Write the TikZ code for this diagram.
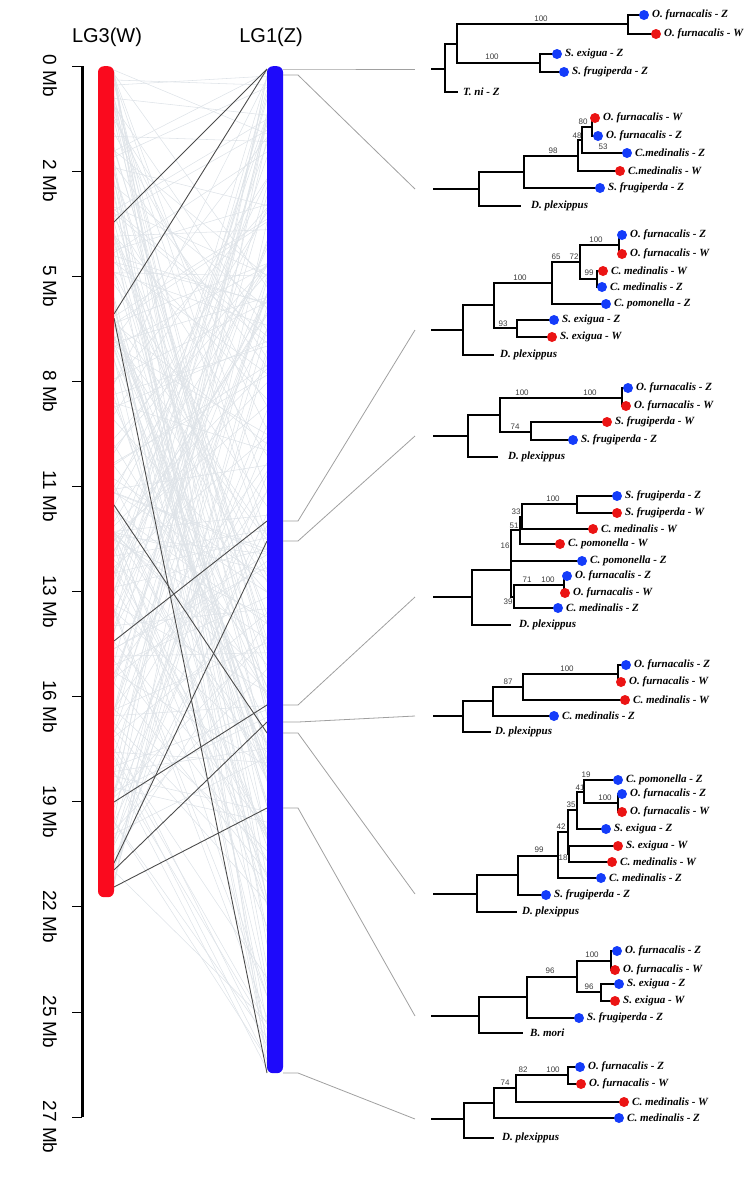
\documentclass[tikz,border=0pt]{standalone}
\usepackage{fontspec}
\setmainfont{Liberation Serif}
\newfontfamily\arialfont{Liberation Sans}
\definecolor{lgred}{RGB}{250,10,30}
\definecolor{lgblue}{RGB}{30,10,250}
\definecolor{dotblue}{RGB}{20,60,250}
\definecolor{dotred}{RGB}{235,20,20}
\definecolor{meshgray}{RGB}{222,227,232}
\definecolor{linkgray}{RGB}{160,160,160}
\definecolor{bootgray}{RGB}{60,60,60}
\tikzset{
  br/.style={line width=1.9pt, line cap=rect},
  tiplab/.style={anchor=west, inner sep=0pt, font=\fontsize{11}{12}\selectfont\bfseries\itshape},
  bootlab/.style={inner sep=0pt, text=bootgray, font=\arialfont\fontsize{8}{8}\selectfont},
  chrom/.style={draw=none, minimum width=16pt, inner sep=0pt, rounded corners=6pt, anchor=north},
  mesh/.style={meshgray, line width=0.55pt},
  synt/.style={black!70, line width=0.9pt},
  link/.style={linkgray, line width=0.8pt},
  axlab/.style={rotate=-90, inner sep=0pt, font=\arialfont\fontsize{19}{19}\selectfont},
  lgtitle/.style={inner sep=0pt, font=\arialfont\fontsize{20}{20}\selectfont}
}
% tips: x, y, text
\newcommand{\tipB}[3]{\fill[dotblue] (#1,#2) circle (5pt); \node[tiplab] (tip#2) at (#1+8,#2) {#3};}
\newcommand{\tipR}[3]{\fill[dotred] (#1,#2) circle (5pt); \node[tiplab] (tip#2) at (#1+8,#2) {#3};}
\newcommand{\tipN}[3]{\node[tiplab] (tip#2) at (#1,#2) {#3};}
\newcommand{\bs}[3]{\node[bootlab] (bs#1x#2) at (#1,#2) {#3};}
\begin{document}
\begin{tikzpicture}[x=1pt,y=-1pt]
  \useasboundingbox (0,0) rectangle (750,1200);

  % scale
  \draw[line width=3pt] (82,66) -- (82,1117);
  \foreach \lab [count=\i from 0] in {0,2,5,8,11,13,16,19,22,25,27} {
    \pgfmathsetmacro\ty{66+105.1*\i}
    \draw[line width=0.8pt] (72,\ty) -- (82,\ty);
    \node[axlab] (ax\i) at (50,\ty+10) {\lab\ Mb};
  }

  % synteny mesh
  \pgfmathsetseed{11}
  \foreach \k in {1,...,230} {
    \pgfmathsetmacro\ya{70+822*rnd}
    \pgfmathsetmacro\yb{70+1000*rnd}
    \draw[mesh] (114,\ya) -- (267,\yb);
  }
  \foreach \ya/\yb in {222/69, 314/69, 318/1073, 505/733, 641/521, 863/541, 802/705, 870/722, 887/808}
    \draw[synt] (114,\ya) -- (267,\yb);

  % linkage groups
  \node[chrom, fill=lgred, minimum height=831pt] (lg3) at (106,66) {};
  \node[chrom, fill=lgblue, minimum height=1007pt] (lg1) at (275,66) {};
  \node[lgtitle] (t3) at (107,37) {LG3(W)};
  \node[lgtitle] (t1) at (271,37) {LG1(Z)};

  % links to trees
  \foreach \zy/\ry [count=\n] in {69/69, 75/189, 521/330, 541/436, 705/597, 722/716, 733/894, 808/1016, 1073/1119} {
    \coordinate (z\n) at (283,\zy);
    \coordinate (r\n) at (415,\ry);
    \draw[link] (z\n) -- ++(15,0) -- (r\n);
  }

  % tree 1
  \draw[br] (432,69) -- (445,69);
  \draw[br] (457,44) -| (445,92) -- (457,92);
  \draw[br] (628,24) -| (457,63) -- (540,63);
  \draw[br] (644,15) -| (628,34) -- (656,34);
  \draw[br] (557,54) -| (540,72) -- (564,72);
  \tipB{644}{15}{O. furnacalis - Z}
  \tipR{656}{34}{O. furnacalis - W}
  \tipB{557}{54}{S. exigua - Z}
  \tipB{564}{72}{S. frugiperda - Z}
  \tipN{463}{92}{T. ni - Z}
  \bs{541}{19}{100}
  \bs{492}{57}{100}

  % tree 2
  \draw[br] (434,189) -- (479,189);
  \draw[br] (524,172) -| (479,206) -- (520,206);
  \draw[br] (578,156) -| (524,188) -- (600,188);
  \draw[br] (582,140) -| (578,171) -- (620,171);
  \draw[br] (592,127) -| (582,153) -- (627,153);
  \draw[br] (595,118) -| (592,136) -- (598,136);
  \tipR{595}{118}{O. furnacalis - W}
  \tipB{598}{136}{O. furnacalis - Z}
  \tipB{627}{153}{C.medinalis - Z}
  \tipR{620}{171}{C.medinalis - W}
  \tipB{600}{188}{S. frugiperda - Z}
  \tipN{531}{206}{D. plexippus}
  \bs{553}{151}{98}
  \bs{577}{136}{48}
  \bs{583}{122}{80}
  \bs{603}{147}{53}

  % tree 3
  \draw[br] (432,330) -- (463,330);
  \draw[br] (494,305) -| (463,355) -- (493,355);
  \draw[br] (552,283) -| (494,328) -- (517,328);
  \draw[br] (554,320) -| (517,337) -- (552,337);
  \draw[br] (580,262) -| (552,304) -- (606,304);
  \draw[br] (619,245) -| (580,279) -- (597,279);
  \draw[br] (622,235) -| (619,254) -- (622,254);
  \draw[br] (603,271) -| (597,287) -- (602,287);
  \tipB{622}{235}{O. furnacalis - Z}
  \tipR{622}{254}{O. furnacalis - W}
  \tipR{603}{271}{C. medinalis - W}
  \tipB{602}{287}{C. medinalis - Z}
  \tipB{606}{304}{C. pomonella - Z}
  \tipB{554}{320}{S. exigua - Z}
  \tipR{552}{337}{S. exigua - W}
  \tipN{500}{355}{D. plexippus}
  \bs{520}{278}{100}
  \bs{556}{257}{65}
  \bs{574}{257}{72}
  \bs{596}{240}{100}
  \bs{589}{273}{99}
  \bs{503}{324}{93}

  % tree 4
  \draw[br] (434,436) -- (468,436);
  \draw[br] (500,415) -| (468,457) -- (497,457);
  \draw[br] (622,398) -| (500,432) -- (531,432);
  \draw[br] (628,388) -| (622,406) -- (626,406);
  \draw[br] (607,422) -| (531,440) -- (573,440);
  \tipB{628}{388}{O. furnacalis - Z}
  \tipR{626}{406}{O. furnacalis - W}
  \tipR{607}{422}{S. frugiperda - W}
  \tipB{573}{440}{S. frugiperda - Z}
  \tipN{508}{457}{D. plexippus}
  \bs{522}{393}{100}
  \bs{590}{393}{100}
  \bs{515}{427}{74}

  % tree 5
  \draw[br] (434,597) -- (472,597);
  \draw[br] (511,570) -| (472,625) -- (510,625);
  \draw[br] (520,530) -| (511,597) -- (514,597);
  \draw[br] (511,561) -- (582,561);
  \draw[br] (564,585) -| (514,608) -- (558,608);
  \draw[br] (567,576) -| (564,593) -- (565,593);
  \draw[br] (522,517) -| (520,544) -- (560,544);
  \draw[br] (577,504) -| (522,529) -- (593,529);
  \draw[br] (617,496) -| (577,513) -- (617,513);
  \tipB{617}{496}{S. frugiperda - Z}
  \tipR{617}{513}{S. frugiperda - W}
  \tipR{593}{529}{C. medinalis - W}
  \tipR{560}{544}{C. pomonella - W}
  \tipB{582}{561}{C. pomonella - Z}
  \tipB{567}{576}{O. furnacalis - Z}
  \tipR{565}{593}{O. furnacalis - W}
  \tipB{558}{608}{C. medinalis - Z}
  \tipN{519}{625}{D. plexippus}
  \bs{553}{499}{100}
  \bs{516}{512}{33}
  \bs{514}{526}{51}
  \bs{505}{546}{16}
  \bs{527}{580}{71}
  \bs{548}{580}{100}
  \bs{508}{602}{39}

  % tree 6
  \draw[br] (434,716) -- (463,716);
  \draw[br] (493,701) -| (463,732) -- (490,732);
  \draw[br] (523,687) -| (493,716) -- (554,716);
  \draw[br] (618,674) -| (523,700) -- (625,700);
  \draw[br] (626,665) -| (618,682) -- (621,682);
  \tipB{626}{665}{O. furnacalis - Z}
  \tipR{621}{682}{O. furnacalis - W}
  \tipR{625}{700}{C. medinalis - W}
  \tipB{554}{716}{C. medinalis - Z}
  \tipN{495}{732}{D. plexippus}
  \bs{508}{682}{87}
  \bs{567}{669}{100}

  % tree 7
  \draw[br] (434,894) -- (477,894);
  \draw[br] (518,875) -| (477,912) -- (516,912);
  \draw[br] (558,856) -| (518,895) -- (546,895);
  \draw[br] (568,832) -| (558,878) -- (601,878);
  \draw[br] (577,810) -| (568,854) -- (569,854);
  \draw[br] (618,846) -| (569,862) -- (612,862);
  \draw[br] (584,792) -| (577,829) -- (606,829);
  \draw[br] (618,780) -| (584,803) -- (618,803);
  \draw[br] (622,794) -| (618,812) -- (622,812);
  \tipB{618}{780}{C. pomonella - Z}
  \tipB{622}{794}{O. furnacalis - Z}
  \tipR{622}{812}{O. furnacalis - W}
  \tipB{606}{829}{S. exigua - Z}
  \tipR{618}{846}{S. exigua - W}
  \tipR{612}{862}{C. medinalis - W}
  \tipB{601}{878}{C. medinalis - Z}
  \tipB{546}{895}{S. frugiperda - Z}
  \tipN{522}{912}{D. plexippus}
  \bs{586}{775}{19}
  \bs{580}{788}{41}
  \bs{571}{805}{35}
  \bs{561}{827}{42}
  \bs{563}{858}{18}
  \bs{539}{850}{99}
  \bs{605}{798}{100}

  % tree 8
  \draw[br] (432,1016) -- (479,1016);
  \draw[br] (527,997) -| (479,1033) -- (522,1033);
  \draw[br] (577,977) -| (527,1018) -- (579,1018);
  \draw[br] (611,961) -| (577,992) -- (601,992);
  \draw[br] (617,951) -| (611,970) -- (615,970);
  \draw[br] (619,984) -| (601,1001) -- (615,1001);
  \tipB{617}{951}{O. furnacalis - Z}
  \tipR{615}{970}{O. furnacalis - W}
  \tipB{619}{984}{S. exigua - Z}
  \tipR{615}{1001}{S. exigua - W}
  \tipB{579}{1018}{S. frugiperda - Z}
  \tipN{530}{1033}{B. mori}
  \bs{550}{971}{96}
  \bs{592}{955}{100}
  \bs{589}{987}{96}

  % tree 9
  \draw[br] (432,1119) -- (464,1119);
  \draw[br] (494,1103) -| (464,1138) -- (493,1138);
  \draw[br] (516,1088) -| (494,1118) -- (619,1118);
  \draw[br] (568,1075) -| (516,1102) -- (624,1102);
  \draw[br] (580,1067) -| (568,1084) -- (581,1084);
  \tipB{580}{1067}{O. furnacalis - Z}
  \tipR{581}{1084}{O. furnacalis - W}
  \tipR{624}{1102}{C. medinalis - W}
  \tipB{619}{1118}{C. medinalis - Z}
  \tipN{502}{1138}{D. plexippus}
  \bs{505}{1083}{74}
  \bs{523}{1070}{82}
  \bs{553}{1070}{100}
\end{tikzpicture}
\end{document}
